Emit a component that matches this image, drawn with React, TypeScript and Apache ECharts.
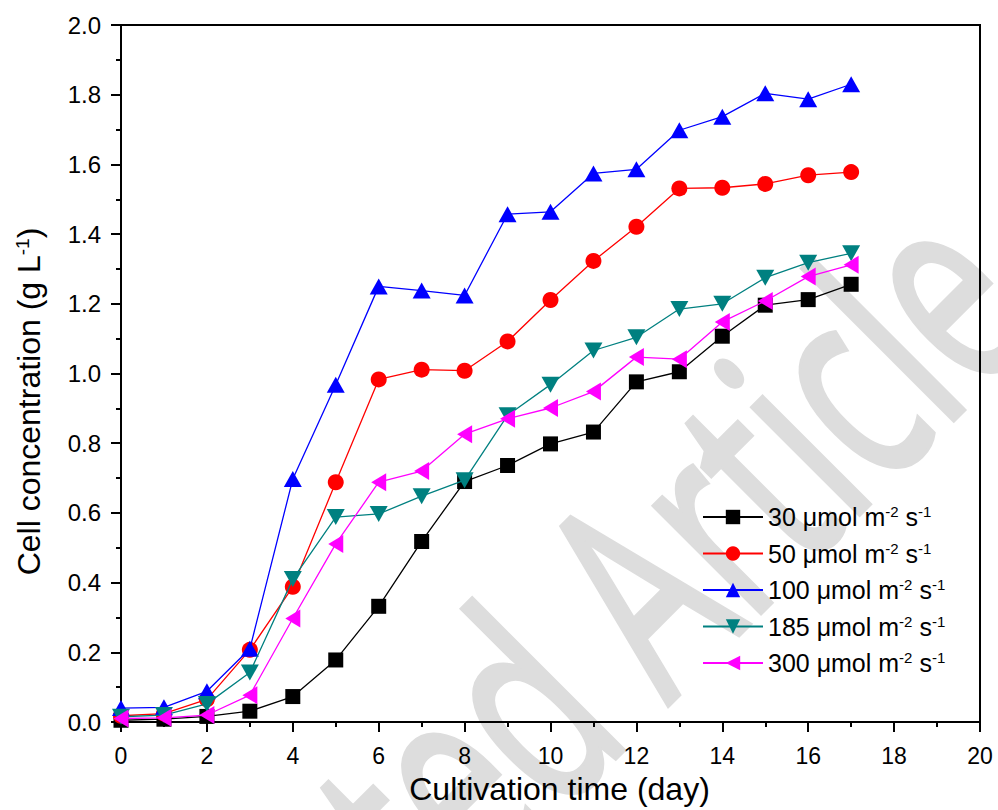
import React, { useEffect, useRef } from 'react';
import * as echarts from 'echarts';

// Cultivation days
const days = [0, 1, 2, 3, 4, 5, 6, 7, 8, 9, 10, 11, 12, 13, 14, 15, 16, 17];

// Light intensities (µmol m-2 s-1) used as series names
const intensities = ['30', '50', '100', '185', '300'];

// Cell concentration (g/L) for each light intensity
const s30 = [0.005, 0.008, 0.016, 0.031, 0.073, 0.178, 0.332, 0.518, 0.69, 0.736, 0.798, 0.832, 0.976, 1.005, 1.107, 1.196, 1.212, 1.256];
const s50 = [0.018, 0.024, 0.065, 0.207, 0.388, 0.688, 0.983, 1.011, 1.008, 1.092, 1.211, 1.323, 1.421, 1.531, 1.533, 1.544, 1.569, 1.578];
const s100 = [0.04, 0.042, 0.088, 0.21, 0.697, 0.968, 1.25, 1.238, 1.224, 1.457, 1.464, 1.574, 1.586, 1.698, 1.737, 1.804, 1.787, 1.83];
const s185 = [0.015, 0.02, 0.052, 0.142, 0.41, 0.588, 0.597, 0.648, 0.694, 0.88, 0.968, 1.066, 1.104, 1.185, 1.2, 1.275, 1.318, 1.345];
const s300 = [0.01, 0.012, 0.02, 0.077, 0.297, 0.511, 0.688, 0.72, 0.826, 0.87, 0.901, 0.948, 1.047, 1.041, 1.148, 1.208, 1.278, 1.312];

const FONT = '"Liberation Sans", Arial, Helvetica, sans-serif';

// Watermark text settings
const WM_TEXT = 'Accepted Article';
const WM_LEAD = 'Accepted ';
const WM_SIZE = 280;
const WM_SQUEEZE = 0.65;
const WM_ANGLE = Math.PI / 4;
const WM_FOOT = [660, 698]; // baseline point where "Article" starts
const WM_MID = 0.35; // middle line above baseline, in em

function watermark() {
  let lead = 0.5 * WM_SIZE * WM_LEAD.length;
  const ctx = document.createElement('canvas').getContext('2d');
  if (ctx) {
    ctx.font = `${WM_SIZE}px "Open Sans"`;
    lead = ctx.measureText(WM_LEAD).width;
  }
  const u = [Math.cos(WM_ANGLE), -Math.sin(WM_ANGLE)];
  const d = [Math.sin(WM_ANGLE), Math.cos(WM_ANGLE)];
  const along = WM_SQUEEZE * lead;
  const up = WM_MID * WM_SIZE;
  const x = WM_FOOT[0] - along * u[0] - up * d[0];
  const y = WM_FOOT[1] - along * u[1] - up * d[1];
  return {
    type: 'text',
    x,
    y,
    rotation: WM_ANGLE,
    scaleX: WM_SQUEEZE,
    scaleY: 1,
    z: -100,
    silent: true,
    style: {
      text: WM_TEXT,
      font: `${WM_SIZE}px "Open Sans"`,
      fill: '#dddddd',
      stroke: '#dddddd',
      lineWidth: 6,
      align: 'left',
      verticalAlign: 'middle',
    },
  };
}

const seriesStyles = [
  { data: s30, color: '#000000', symbol: 'rect', symbolSize: 15, symbolRotate: 0 },
  { data: s50, color: '#ff0000', symbol: 'circle', symbolSize: 16, symbolRotate: 0 },
  { data: s100, color: '#0000ff', symbol: 'triangle', symbolSize: [18, 16], symbolRotate: 0 },
  { data: s185, color: '#008080', symbol: 'triangle', symbolSize: [18, 16], symbolRotate: 180 },
  { data: s300, color: '#ff00ff', symbol: 'triangle', symbolSize: [18, 15], symbolRotate: 90 },
];

export default function App() {
  const ref = useRef<HTMLDivElement>(null);

  useEffect(() => {
    if (!ref.current) return;
    const chart = echarts.init(ref.current, undefined, { renderer: 'svg' });

    const series = intensities.map((name, k) => {
      const s = seriesStyles[k];
      return {
        name,
        type: 'line',
        data: days.map((d, i) => [d, s.data[i]]),
        symbol: s.symbol,
        symbolSize: s.symbolSize,
        symbolRotate: s.symbolRotate,
        color: s.color,
        itemStyle: { color: s.color, opacity: 1 },
        lineStyle: { color: s.color, width: 1.3 },
        z: 2 + k,
      };
    });

    chart.setOption({
      animation: false,
      backgroundColor: '#ffffff',
      grid: {
        left: 121,
        right: 18,
        top: 25,
        bottom: 86.5,
        show: true,
        borderColor: '#000',
        borderWidth: 2,
        backgroundColor: 'transparent',
      },
      graphic: { z: -100, elements: [watermark()] },
      legend: {
        orient: 'vertical',
        left: 697,
        top: 499,
        itemWidth: 60,
        itemHeight: 18,
        itemGap: 10.5,
        data: intensities,
        formatter: (name: string) => `${name} {mu|\u03bc}mol m{sup|-2} s{sup|-1}`,
        textStyle: {
          fontFamily: FONT,
          fontSize: 25,
          color: '#000',
          lineHeight: 26,
          padding: [0, 0, 0, 0],
          rich: {
            mu: { fontFamily: FONT, fontSize: 25, color: '#000', lineHeight: 26 },
            sup: { fontFamily: FONT, fontSize: 15, color: '#000', verticalAlign: 'top', lineHeight: 14 },
          },
        },
      },
      xAxis: {
        type: 'value',
        min: 0,
        max: 20,
        interval: 2,
        name: 'Cultivation time (day)',
        nameLocation: 'middle',
        nameGap: 51,
        nameTextStyle: { fontFamily: FONT, fontSize: 32, color: '#000', padding: [0, 0, 0, 18] },
        axisLine: { show: true, lineStyle: { color: '#000', width: 2 } },
        axisTick: { show: true, length: 10, lineStyle: { color: '#000', width: 2 } },
        minorTick: { show: true, splitNumber: 2, length: 5, lineStyle: { color: '#000', width: 2 } },
        axisLabel: { fontFamily: FONT, fontSize: 23, color: '#000', margin: 22 },
        splitLine: { show: false },
      },
      yAxis: {
        type: 'value',
        min: 0,
        max: 2,
        interval: 0.2,
        name: 'Cell concentration (g L{sup|-1})',
        nameLocation: 'middle',
        nameGap: 76,
        nameRotate: 90,
        nameTextStyle: {
          fontFamily: FONT,
          fontSize: 32,
          color: '#000',
          padding: [0, 56, 0, 0],
          rich: {
            sup: { fontFamily: FONT, fontSize: 19, color: '#000', verticalAlign: 'top', lineHeight: 19 },
          },
        },
        axisLine: { show: true, lineStyle: { color: '#000', width: 2 } },
        axisTick: { show: true, length: 10, lineStyle: { color: '#000', width: 2 } },
        minorTick: { show: true, splitNumber: 2, length: 5, lineStyle: { color: '#000', width: 2 } },
        axisLabel: {
          fontFamily: FONT,
          fontSize: 24,
          color: '#000',
          margin: 20,
          formatter: (v: number) => v.toFixed(1),
        },
        splitLine: { show: false },
      },
      series,
    });

    return () => chart.dispose();
  }, []);

  return <div ref={ref} style={{ position: 'fixed', left: 0, top: 0, width: 998, height: 810 }} />;
}
